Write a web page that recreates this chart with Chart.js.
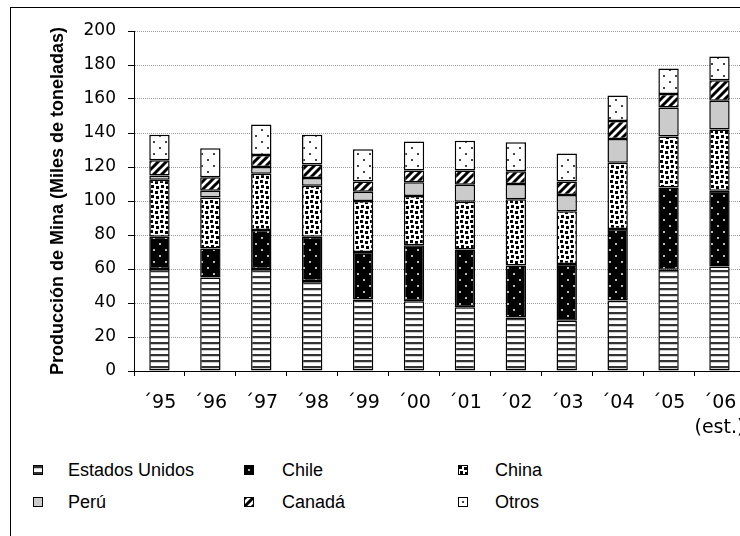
<!DOCTYPE html>
<html>
<head>
<meta charset="utf-8">
<script src="https://cdn.jsdelivr.net/npm/chart.js@4.4.1/dist/chart.umd.min.js"></script>
<style>
  html, body { margin: 0; padding: 0; width: 740px; height: 536px; overflow: hidden; background: #fff; }
  #frame { position: absolute; left: 10px; top: 7px; width: 800px; height: 600px; border: 1px solid #000; }
  #wrap { position: absolute; left: 0; top: 0; width: 760px; height: 450px; }
  .item { position: absolute; font: 18px "Liberation Sans", Arial, sans-serif; color: #000; line-height: 20px; }
</style>
</head>
<body>
<div id="frame"></div>
<div id="wrap"><canvas id="barChart" width="760" height="450"></canvas></div>
<div id="legend"></div>
<script>
// Data (thousand tonnes)
const years = ['´95', '´96', '´97', '´98', '´99', '´00', '´01', '´02', '´03', '´04', '´05', ['´06', '(est.)']];
const estadosUnidos = [60, 55, 60, 53, 42, 41, 37.5, 31.5, 29.5, 41.5, 59.5, 61.5];
const chile = [19, 17, 23, 26, 28, 33, 34, 30.5, 33.5, 42, 48.5, 44.5];
const china = [33.5, 30, 33, 30, 30, 29, 28, 39, 31, 39, 30, 36];
const peru = [2.5, 4, 4, 4.5, 5.5, 8, 10, 9, 9.5, 14, 17, 17];
const canada = [9, 8, 7, 8, 6, 7, 8.5, 7.5, 8, 10.5, 8, 12];
const otros = [15, 17, 18, 17.5, 19, 17, 17.5, 17, 16.5, 15, 15, 14];
const yTicks = [0, 20, 40, 60, 80, 100, 120, 140, 160, 180, 200];

// small tiles used as fill patterns
function makeTile(w, h, draw) {
  const c = document.createElement('canvas');
  c.width = w; c.height = h;
  const g = c.getContext('2d');
  draw(g, w, h);
  return c;
}

const tiles = {
  stripes: makeTile(6, 6, (g) => {
    g.fillStyle = '#fff'; g.fillRect(0, 0, 6, 6);
    g.fillStyle = '#333'; g.fillRect(0, 0, 6, 2);
    g.fillStyle = '#ccc'; g.fillRect(0, 2, 6, 1);
  }),
  blackDots: makeTile(12, 12, (g) => {
    g.fillStyle = '#000'; g.fillRect(0, 0, 12, 12);
    g.fillStyle = '#bbb';
    g.fillRect(3, 3, 2, 2); g.fillRect(9, 9, 2, 2);
  }),
  squares: makeTile(10, 10, (g) => {
    g.fillStyle = '#fff'; g.fillRect(0, 0, 10, 10);
    g.fillStyle = '#000';
    g.fillRect(0, 0, 3, 3); g.fillRect(5, 1, 3, 3);
    g.fillRect(1, 5, 3, 3); g.fillRect(6, 6, 3, 3);
  }),
  grey: makeTile(4, 4, (g) => {
    g.fillStyle = '#cbcbcb'; g.fillRect(0, 0, 4, 4);
  }),
  diagonal: makeTile(8, 8, (g) => {
    g.fillStyle = '#fff'; g.fillRect(0, 0, 8, 8);
    g.strokeStyle = '#000'; g.lineWidth = 3;
    g.beginPath();
    g.moveTo(-2, 10); g.lineTo(10, -2);
    g.moveTo(-6, 6); g.lineTo(6, -6);
    g.moveTo(2, 14); g.lineTo(14, 2);
    g.stroke();
  }),
  sparseDots: makeTile(12, 12, (g) => {
    g.fillStyle = '#fff'; g.fillRect(0, 0, 12, 12);
    g.fillStyle = '#444';
    g.fillRect(3, 3, 2, 2); g.fillRect(9, 9, 2, 2);
  })
};

const ctx = document.getElementById('barChart').getContext('2d');
const pat = (t) => ctx.createPattern(t, 'repeat');

const series = [
  { label: 'Estados Unidos', data: estadosUnidos, tile: tiles.stripes },
  { label: 'Chile', data: chile, tile: tiles.blackDots },
  { label: 'China', data: china, tile: tiles.squares },
  { label: 'Perú', data: peru, tile: tiles.grey },
  { label: 'Canadá', data: canada, tile: tiles.diagonal },
  { label: 'Otros', data: otros, tile: tiles.sparseDots }
];

new Chart(ctx, {
  type: 'bar',
  data: {
    labels: years,
    datasets: series.map(s => ({
      label: s.label,
      data: s.data,
      backgroundColor: pat(s.tile),
      borderColor: '#000',
      borderWidth: 1.5,
      borderSkipped: false,
      categoryPercentage: 1,
      barPercentage: 0.4
    }))
  },
  options: {
    responsive: false,
    animation: false,
    layout: { padding: { top: 31, right: 14, left: 0, bottom: 0 } },
    scales: {
      x: {
        stacked: true,
        offset: true,
        afterFit: (scale) => { scale.height = 79; },
        grid: {
          offset: true,
          drawOnChartArea: false,
          drawTicks: true,
          tickLength: 5,
          tickColor: '#000',
          tickWidth: 1
        },
        border: { display: true, color: '#000', width: 1 },
        ticks: {
          color: '#000',
          padding: 15,
          maxRotation: 0,
          autoSkip: false,
          font: { family: 'DejaVu Sans', size: 19, lineHeight: 1.3 }
        }
      },
      y: {
        stacked: true,
        min: 0,
        max: 200,
        afterFit: (scale) => { scale.width = 134; },
        afterBuildTicks: (scale) => { scale.ticks = yTicks.map(v => ({ value: v })); },
        grid: {
          color: '#9a9a9a',
          lineWidth: 1,
          tickColor: '#000',
          tickLength: 6,
          tickBorderDash: []
        },
        border: { display: true, color: '#000', width: 1, dash: [1, 1] },
        ticks: {
          color: '#000',
          padding: 12,
          font: { family: 'DejaVu Sans', size: 17 }
        },
        title: {
          display: true,
          text: 'Producción de Mina (Miles de toneladas)',
          color: '#000',
          padding: { top: 47, bottom: 0 },
          font: { family: 'Liberation Sans', size: 18, weight: 'bold', lineHeight: 1.2 }
        }
      }
    },
    plugins: {
      legend: { display: false },
      tooltip: { enabled: false }
    }
  }
});

// legend: 2 rows x 3 columns, built from the series
const legend = document.getElementById('legend');
const markX = [33, 244, 458];
const textX = [68, 282, 495];
const rowY = [470, 502];
series.forEach((s, i) => {
  const col = i % 3, row = Math.floor(i / 3);
  const mk = document.createElement('canvas');
  mk.width = 8; mk.height = 8;
  const g = mk.getContext('2d');
  g.fillStyle = g.createPattern(s.tile, 'repeat');
  g.fillRect(0, 0, 8, 8);
  mk.style.position = 'absolute';
  mk.style.border = '1px solid #000';
  mk.style.left = markX[col] + 'px';
  mk.style.top = (rowY[row] - 5) + 'px';
  legend.appendChild(mk);
  const tx = document.createElement('div');
  tx.className = 'item';
  tx.textContent = s.label;
  tx.style.left = textX[col] + 'px';
  tx.style.top = (rowY[row] - 10) + 'px';
  legend.appendChild(tx);
});
</script>
</body>
</html>
